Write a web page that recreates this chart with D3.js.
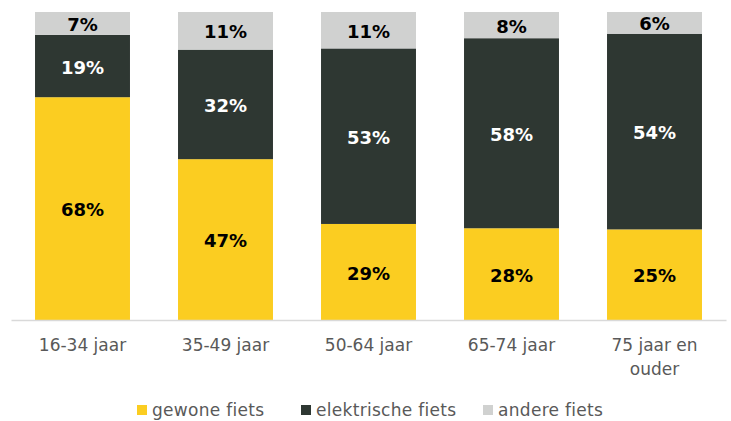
<!DOCTYPE html>
<html>
<head>
<meta charset="utf-8">
<script src="https://cdn.jsdelivr.net/npm/d3@7"></script>
<style>
  body { margin: 0; background: #fff; }
  text { font-family: "DejaVu Sans", sans-serif; }
</style>
</head>
<body>
<svg id="chart" width="731" height="421"></svg>
<script>
// data
var categories = ['16-34 jaar', '35-49 jaar', '50-64 jaar', '65-74 jaar', '75 jaar en ouder'];
var gewone = [68, 47, 29, 28, 25];
var elektrisch = [19, 32, 53, 58, 54];
var andere = [7, 11, 11, 8, 6];
var series_names = ['gewone fiets', 'elektrische fiets', 'andere fiets'];
var colors = ['#fbcd21', '#2e3732', '#d0d1d0'];
var label_colors = ['#000000', '#ffffff', '#000000'];

var svg_elem = d3.select('#chart');

// rows for the stack, each bar scaled to 100%
var rows = categories.map(function(c, i) {
	var total = gewone[i] + elektrisch[i] + andere[i];
	return {cat: c, total: total, s0: gewone[i], s1: elektrisch[i], s2: andere[i]};
});

var stack = d3.stack().keys(['s0', 's1', 's2'])
	.value(function(d, k) { return d[k] / d.total; });
var layers = stack(rows);

var x_scale = d3.scaleBand().domain(categories).range([11, 726]).paddingInner(0.336).paddingOuter(0.168);
var y_scale = d3.scaleLinear().domain([0, 1]).range([320, 12]);

// bars
var groups = svg_elem.selectAll('g.layer').data(layers).enter().append('g')
	.attr('class', 'layer')
	.attr('fill', function(d, i) { return colors[i]; });

groups.selectAll('rect').data(function(d) { return d; }).enter().append('rect')
	.attr('x', function(d) { return x_scale(d.data.cat); })
	.attr('y', function(d) { return y_scale(d[1]); })
	.attr('width', x_scale.bandwidth())
	.attr('height', function(d) { return y_scale(d[0]) - y_scale(d[1]); });

// value labels
layers.forEach(function(layer, li) {
	svg_elem.append('g').selectAll('text').data(layer).enter().append('text')
		.attr('x', function(d) { return x_scale(d.data.cat) + x_scale.bandwidth() / 2; })
		.attr('y', function(d) { return (y_scale(d[0]) + y_scale(d[1])) / 2; })
		.attr('dy', '0.42em')
		.attr('text-anchor', 'middle')
		.attr('font-size', 18)
		.attr('font-weight', 'bold')
		.attr('fill', label_colors[li])
		.text(function(d) { return d.data['s' + li] + '%'; });
});

// x axis
var x_axis = svg_elem.append('g').attr('transform', 'translate(0,320)')
	.call(d3.axisBottom(x_scale).tickSize(0).tickSizeOuter(0).tickFormat(''));
x_axis.select('.domain').attr('stroke', '#d9d9d9').attr('stroke-width', 1.5);

// category labels, wrapped by hand for the long one
var wrap = {'75 jaar en ouder': ['75 jaar en', 'ouder']};
var cat_labels = svg_elem.append('g').selectAll('text').data(categories).enter().append('text')
	.attr('x', function(d) { return x_scale(d) + x_scale.bandwidth() / 2; })
	.attr('y', 351)
	.attr('text-anchor', 'middle')
	.attr('font-size', 17)
	.attr('fill', '#595959');
cat_labels.each(function(d) {
	var lines = wrap[d] || [d];
	var t = d3.select(this);
	lines.forEach(function(l, i) {
		t.append('tspan').attr('x', x_scale(d) + x_scale.bandwidth() / 2)
			.attr('dy', i === 0 ? 0 : 24).text(l);
	});
});

// legend
var legend_x = [137, 301, 483];
var legend = svg_elem.append('g').selectAll('g').data(series_names).enter().append('g')
	.attr('transform', function(d, i) { return 'translate(' + legend_x[i] + ',405)'; });
legend.append('rect').attr('width', 10).attr('height', 10)
	.attr('fill', function(d, i) { return colors[i]; });
legend.append('text').attr('x', 15).attr('y', 11)
	.attr('font-size', 17).attr('fill', '#595959').attr('letter-spacing', 0.3)
	.text(function(d) { return d; });
</script>
</body>
</html>
